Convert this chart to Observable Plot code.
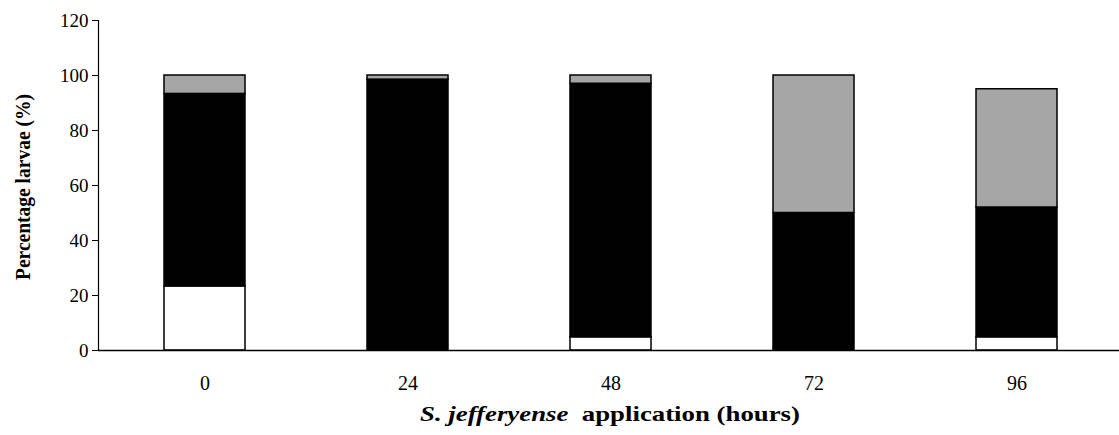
<!DOCTYPE html>
<html>
<head>
<meta charset="utf-8">
<script src="https://cdn.jsdelivr.net/npm/d3@7"></script>
<script src="https://cdn.jsdelivr.net/npm/@observablehq/plot@0.6"></script>
<style>
  html, body { margin: 0; padding: 0; background: #fff; }
  #chart svg { display: block; font-family: "Liberation Serif", "Times New Roman", serif !important; }
  #chart svg text { font-family: "Liberation Serif", "Times New Roman", serif !important; fill: #000; }
  #chart svg g[aria-label="y-axis tick label"] text { font-size: 19px; }
  #chart svg g[aria-label="x-axis tick label"] text { font-size: 20px; }
</style>
</head>
<body>
<div id="chart"></div>
<script>
// Data (percentages)
const hours = ["0", "24", "48", "72", "96"];
const series = ["s1", "s2", "s3"]; // white, black, grey segments (bottom to top)
const whiteVals = [23.3, 0, 4.8, 0, 4.8];
const blackVals = [70.0, 98.5, 92.2, 50.0, 47.2];
const grayVals  = [6.7, 1.5, 3.0, 50.0, 43.0];
const yTicks = [0, 20, 40, 60, 80, 100, 120];
const colors = ["#ffffff", "#000000", "#a6a6a6"];

const valuesBySeries = [whiteVals, blackVals, grayVals];
const rows = [];
hours.forEach((h, i) => {
  series.forEach((s, j) => {
    rows.push({hour: h, series: s, value: valuesBySeries[j][i]});
  });
});

const chart = Plot.plot({
  width: 1119,
  height: 435,
  marginLeft: 98,
  marginRight: 0,
  marginTop: 20,
  marginBottom: 85,
  style: {fontFamily: "'Liberation Serif', 'Times New Roman', serif", fontSize: "19px", color: "#000", background: "#fff"},
  x: {domain: hours, paddingInner: 0.6, paddingOuter: 0.3, insetLeft: 4, label: null},
  y: {domain: [0, 120], ticks: yTicks, label: null},
  color: {type: "ordinal", domain: series, range: colors},
  marks: [
    Plot.barY(rows, Plot.stackY({order: series, x: "hour", y: "value", fill: "series", stroke: "#000", strokeWidth: 1.5})),
    Plot.axisY({ticks: yTicks, tickSize: 6, tickPadding: 4, tickFormat: d => String(d), label: null, fontSize: 19}),
    Plot.axisX({tickSize: 0, tickPadding: 25, label: null, fontSize: 20}),
    Plot.frame({anchor: "left", stroke: "#000", strokeWidth: 1.2}),
    Plot.frame({anchor: "bottom", stroke: "#000", strokeWidth: 1.5})
  ]
});

const svg = d3.select(chart);
// Y axis title
svg.append("text")
  .attr("transform", "translate(30,187) rotate(-90)")
  .attr("text-anchor", "middle")
  .attr("font-size", 20)
  .attr("font-weight", "bold")
  .attr("fill", "#000")
  .attr("textLength", 186)
  .attr("lengthAdjust", "spacingAndGlyphs")
  .text("Percentage larvae (%)");
// X axis title
const xt = svg.append("text")
  .attr("x", 420)
  .attr("y", 421)
  .attr("text-anchor", "start")
  .attr("font-size", 21)
  .attr("font-weight", "bold")
  .attr("fill", "#000")
  .attr("textLength", 380)
  .attr("lengthAdjust", "spacingAndGlyphs");
xt.append("tspan").attr("font-style", "italic").text("S. jefferyense");
xt.append("tspan").text("\u00a0 application (hours)");

document.getElementById("chart").appendChild(chart);
</script>
</body>
</html>
